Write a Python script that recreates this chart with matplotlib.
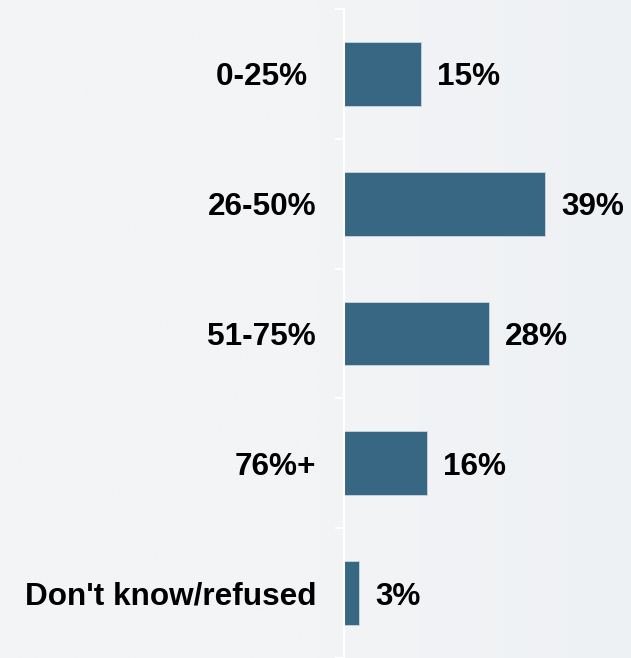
import numpy as np
import matplotlib.pyplot as plt
from matplotlib.colors import LinearSegmentedColormap
from matplotlib.ticker import FixedLocator

categories = ['0-25% ', '26-50%', '51-75%', '76%+', "Don't know/refused"]
shares = [15, 39, 28, 16, 3]

BAR_COLOR = '#376783'
BG_LEFT = '#f3f4f6'
BG_RIGHT = '#eef1f4'


def main():
    plt.rcParams['font.family'] = ['Liberation Sans', 'DejaVu Sans']
    plt.rcParams['font.weight'] = 'bold'

    fig = plt.figure(figsize=(6.31, 6.58), dpi=100)

    # soft left-to-right background shading
    bg = fig.add_axes([0, 0, 1, 1], zorder=-10)
    cmap = LinearSegmentedColormap.from_list('bg', [BG_LEFT, BG_LEFT, BG_RIGHT])
    bg.imshow(np.linspace(0, 1, 256).reshape(1, -1), cmap=cmap, aspect='auto',
              extent=[0, 1, 0, 1])
    bg.axis('off')

    ax = fig.add_axes([344 / 631, 0, 1 - 344 / 631, 1 - 9 / 658])
    ax.patch.set_alpha(0)
    y = np.arange(len(categories))
    ax.barh(y, shares, height=0.49, color=BAR_COLOR, edgecolor='#c9d6df',
            linewidth=0.6, zorder=2)

    for yi, v in zip(y, shares):
        ax.annotate(f'{v}%', (v, yi), xytext=(11.5, -2.5), textcoords='offset points',
                    va='center', ha='left', fontsize=22.7, fontweight='bold',
                    color='black')

    ax.set_xlim(0, 55.6)
    ax.set_ylim(len(categories) - 0.5, -0.5)

    for side in ['top', 'right', 'bottom']:
        ax.spines[side].set_visible(False)
    ax.spines['left'].set_color('white')
    ax.spines['left'].set_linewidth(1.5)
    ax.spines['left'].set_zorder(3)

    ax.set_xticks([])
    ax.set_yticks(y)
    ax.set_yticklabels(categories, fontsize=22.7, fontweight='bold')
    ax.tick_params(axis='y', which='major', length=0, pad=20)
    ax.yaxis.set_minor_locator(FixedLocator(np.arange(-0.5, len(categories), 1)))
    ax.tick_params(axis='y', which='minor', length=6.5, width=1.5, color='white')

    fig.savefig('out.png', dpi=100)


if __name__ == '__main__':
    main()
